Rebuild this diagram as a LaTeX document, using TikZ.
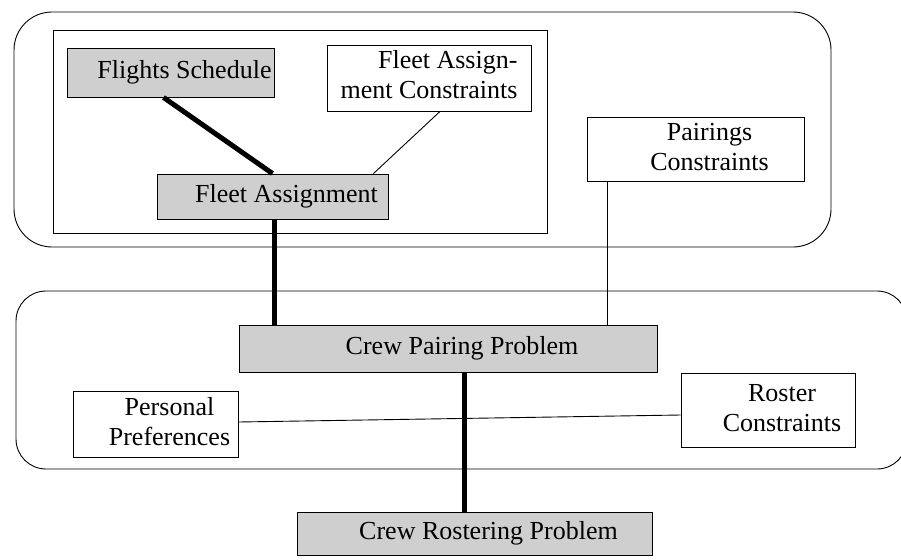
\documentclass[tikz,border=0pt]{standalone}
\usepackage{fontspec}
\setmainfont{Liberation Serif}
\usetikzlibrary{positioning}

% text of a box, set a little right of the middle
\newcommand{\lbl}[2][c]{\hspace*{28pt}\begin{tabular}{@{}#1@{}}#2\end{tabular}}

\begin{document}
\begin{tikzpicture}[x=1pt, y=-1pt,
  font=\fontsize{26}{30}\selectfont,
  box/.style={draw, line width=0.9pt, inner sep=0pt, rectangle},
  shaded/.style={box, fill=black!19},
  group/.style={draw, line width=0.9pt},
  thin/.style={line width=0.9pt},
  thick link/.style={line width=5pt}]
\clip (0,0) rectangle (901,559);

% Frames round the two levels
\draw[group, rounded corners=38pt] (14,12) rectangle (831,247);
\draw[group] (53,30) rectangle (547,233);
\draw[group, rounded corners=30pt] (16,291) rectangle (907,469);

% Fleet level
\node[shaded, minimum width=207pt, minimum height=49pt] (flights) at (170.5,72.5) {\lbl{Flights Schedule}};
\node[box, minimum width=204pt, minimum height=66pt] (fleetcons) at (429,78) {\begin{tabular}{@{}r@{}}Fleet Assign-\\ment Constraints\end{tabular}};
\node[shaded, minimum width=231pt, minimum height=45pt] (fleet) at (272.5,196.5) {\lbl{Fleet Assignment}};
\node[box, minimum width=217pt, minimum height=64pt] (paircons) at (695.5,149) {\lbl{Pairings\\Constraints}};

% Crew level
\node[shaded, minimum width=418pt, minimum height=47pt] (pairing) at (448,348.5) {\lbl{Crew Pairing Problem}};
\node[box, minimum width=165pt, minimum height=66pt] (prefs) at (155.5,424) {\lbl{Personal\\Preferences}};
\node[box, minimum width=174pt, minimum height=74pt] (roster) at (768,410) {\lbl{Roster\\Constraints}};
\node[shaded, minimum width=355pt, minimum height=43pt] (rostering) at (474.5,533.5) {\lbl{Crew Rostering Problem}};

% Links
\draw[thick link] ([xshift=-7pt]flights.south) -- (fleet.north);
\draw[thin] ([xshift=11pt]fleetcons.south) -- ([xshift=-15pt]fleet.north east);
\draw[thick link] ([xshift=1.5pt]fleet.south) -- ([xshift=1.5pt]fleet.south |- pairing.north);
\draw[thin] ([xshift=21pt]paircons.south west) -- ([xshift=21pt]paircons.south west |- pairing.north);
\draw[thin] ([yshift=2pt]prefs.east) -- ([yshift=-5pt]roster.west);
\draw[thick link] ([xshift=16pt]pairing.south) -- ([xshift=16pt]pairing.south |- rostering.north);
\end{tikzpicture}
\end{document}
